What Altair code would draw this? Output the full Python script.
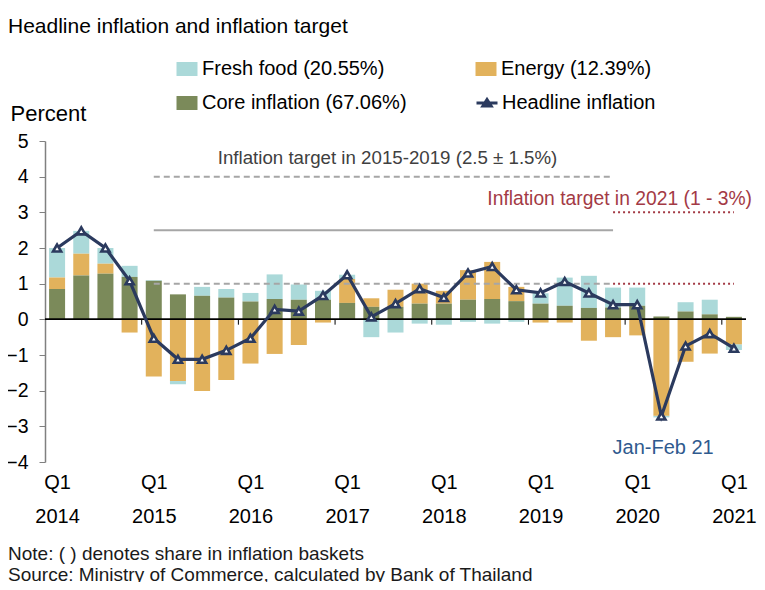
import altair as alt
import pandas as pd

FONT = "Liberation Sans"

# ---- data ----
quarter_idx = list(range(29))  # 0 = Q1 2014 ... 28 = Q1 2021
core = [0.85, 1.23, 1.28, 1.19, 1.08, 0.70, 0.66, 0.61, 0.50, 0.57, 0.55, 0.55,
        0.46, 0.35, 0.35, 0.44, 0.44, 0.55, 0.57, 0.51, 0.44, 0.38, 0.32, 0.33,
        0.38, 0.08, 0.22, 0.14, 0.07]
energy = [0.32, 0.61, 0.28, -0.37, -1.60, -1.73, -2.01, -1.70, -1.24, -0.97, -0.72, -0.09,
          0.67, 0.24, 0.48, 0.56, 0.36, 0.83, 1.04, 0.40, -0.09, -0.09, -0.60, -0.50,
          -0.45, -2.70, -1.19, -0.96, -0.70]
fresh = [0.83, 0.64, 0.44, 0.31, 0.02, -0.09, 0.25, 0.24, 0.24, 0.69, 0.43, 0.25,
         0.12, -0.50, -0.37, -0.12, -0.15, -0.07, -0.12, -0.07, 0.29, 0.79, 0.90, 0.56,
         0.51, -0.05, 0.26, 0.41, -0.16]
headline = [2.00, 2.48, 2.00, 1.08, -0.53, -1.12, -1.12, -0.87, -0.53, 0.28, 0.23, 0.67,
            1.25, 0.07, 0.44, 0.86, 0.61, 1.30, 1.48, 0.83, 0.74, 1.06, 0.74, 0.41,
            0.41, -2.71, -0.75, -0.40, -0.81]

comp_names = ["Fresh food (20.55%)", "Energy (12.39%)", "Core inflation (67.06%)"]
comp_colors = ["#ABD9D9", "#E2B25C", "#7B8A5A"]
stack_order = {"Core inflation (67.06%)": 0, "Energy (12.39%)": 1, "Fresh food (20.55%)": 2}
headline_name = "Headline inflation"
navy = "#2B3A5E"

label_quarters = [0, 4, 8, 12, 16, 20, 24, 28]
first_year = 2014
year_bounds = [3.5, 7.5, 11.5, 15.5, 19.5, 23.5, 27.5]
y_ticks = [-4, -3, -2, -1, 0, 1, 2, 3, 4, 5]

# inflation-target segments (quarter index start/end, level)
grey_dash_start = [4, 4]
grey_dash_end = [23, 23]
grey_dash_level = [4, 1]
grey_solid_start = [4]
grey_solid_end = [23]
grey_solid_level = [2.5]
red_dot_start = [23, 23]
red_dot_end = [28, 28]
red_dot_level = [3, 1]

ann_text = ["Inflation target in 2015-2019 (2.5 \u00b1 1.5%)",
            "Inflation target in 2021 (1 - 3%)", "Jan-Feb 21"]
ann_x = [13.67, 28.75, 25.07]
ann_y = [4.52, 3.37, -3.6]

# ---- tables ----
rows = []
for i in quarter_idx:
    for name, vals in zip(comp_names, [fresh, energy, core]):
        rows.append({"q": i, "component": name, "value": vals[i], "ord": stack_order[name]})
bars_df = pd.DataFrame(rows)
line_df = pd.DataFrame({"q": quarter_idx, "value": headline, "series": headline_name})
bounds_df = pd.DataFrame({"b": year_bounds})
gd_df = pd.DataFrame({"x": grey_dash_start, "x2": grey_dash_end, "y": grey_dash_level})
gs_df = pd.DataFrame({"x": grey_solid_start, "x2": grey_solid_end, "y": grey_solid_level})
rd_df = pd.DataFrame({"x": red_dot_start, "x2": red_dot_end, "y": red_dot_level})

xscale = alt.Scale(domain=[-0.5, 28.5], nice=False, zero=False, padding=0)
yscale = alt.Scale(domain=[-4, 5], nice=False, zero=False, padding=0)

x_axis = alt.Axis(values=label_quarters,
                  labelExpr=f"['Q1', '' + ({first_year} + datum.value / 4)]",
                  domain=False, ticks=False, grid=False, title=None,
                  labelFontSize=20, labelFont=FONT, labelColor="black",
                  labelLineHeight=34, labelPadding=10, labelBaseline="top",
                  labelOverlap=False, labelFlush=False)
y_axis = alt.Axis(values=y_ticks, tickCount=len(y_ticks), grid=False, domainColor="#808080",
                  domainWidth=1.5, tickColor="#808080", tickSize=6, tickWidth=1,
                  labelFontSize=19.5, labelFont=FONT, labelColor="black", labelPadding=11,
                  labelOverlap=False, labelSeparation=0,
                  title="Percent", titleAngle=0, titleX=-35, titleY=-21,
                  titleAlign="left", titleBaseline="alphabetic", titleFontSize=22,
                  titleFont=FONT, titleFontWeight="normal", titleColor="black")

X = lambda f: alt.X(f, scale=xscale, axis=x_axis)
Y = lambda f: alt.Y(f, scale=yscale, axis=y_axis)

rect_path = "M-1.4,-0.93H1.4V0.93H-1.4Z"
bars = alt.Chart(bars_df).mark_bar(size=16).encode(
    x=X("q:Q"),
    y=alt.Y("value:Q", scale=yscale, axis=y_axis, stack="zero"),
    color=alt.Color("component:N",
                    scale=alt.Scale(domain=comp_names, range=comp_colors),
                    legend=alt.Legend(orient="none", legendX=132, legendY=-82,
                                      direction="horizontal",
                                      columns=2, title=None, symbolType=rect_path,
                                      symbolSize=225, symbolStrokeWidth=0,
                                      labelFontSize=20, labelFont=FONT, labelColor="black",
                                      labelLimit=0, labelOffset=5, rowPadding=14,
                                      columnPadding=68, gridAlign="all", symbolOpacity=1)),
    order=alt.Order("ord:Q"),
)

zero_line = alt.Chart(bounds_df).mark_rule(color="black", strokeWidth=1).encode(
    y=alt.datum(0, scale=yscale, axis=y_axis))
zero_ticks = alt.Chart(bounds_df).mark_rule(color="black", strokeWidth=1).encode(
    x=X("b:Q"), y=alt.datum(0, scale=yscale, axis=y_axis), y2=alt.datum(-0.15))

grey_dash = alt.Chart(gd_df).mark_rule(color="#A6A6A6", strokeWidth=2, strokeDash=[6, 4]).encode(
    x=X("x:Q"), x2="x2:Q", y=Y("y:Q"))
grey_solid = alt.Chart(gs_df).mark_rule(color="#A6A6A6", strokeWidth=2).encode(
    x=X("x:Q"), x2="x2:Q", y=Y("y:Q"))
red_dot = alt.Chart(rd_df).mark_rule(color="#A33A45", strokeWidth=2, strokeDash=[2, 3]).encode(
    x=X("x:Q"), x2="x2:Q", y=Y("y:Q"))

hl_path = "M-1.4,0H1.4M-0.55,0.4L0,-0.45L0.55,0.4Z"
line = alt.Chart(line_df).mark_line(strokeWidth=3.2).encode(
    x=X("q:Q"), y=Y("value:Q"),
    color=alt.Color("series:N", scale=alt.Scale(domain=[headline_name], range=[navy]),
                    legend=alt.Legend(orient="none", legendX=432, legendY=-48, title=None,
                                      symbolType=hl_path, symbolSize=225,
                                      symbolStrokeWidth=3, symbolFillColor=navy,
                                      labelFontSize=20, labelFont=FONT, labelColor="black",
                                      labelLimit=0, labelOffset=5)),
)
points = alt.Chart(line_df).mark_point(shape="triangle-up", filled=True, fill="white",
                                       stroke=navy, strokeWidth=2.6, size=65, opacity=1).encode(
    x=X("q:Q"), y=Y("value:Q"))

ann_df = pd.DataFrame({"text": ann_text, "x": ann_x, "y": ann_y})
ann1 = alt.Chart(ann_df.iloc[[0]]).mark_text(font=FONT, fontSize=18.7, color="#404040",
                                             align="center", baseline="middle").encode(
    x=X("x:Q"), y=Y("y:Q"), text="text:N")
ann2 = alt.Chart(ann_df.iloc[[1]]).mark_text(font=FONT, fontSize=19.3, color="#A33A45",
                                             align="right", baseline="middle").encode(
    x=X("x:Q"), y=Y("y:Q"), text="text:N")
ann3 = alt.Chart(ann_df.iloc[[2]]).mark_text(font=FONT, fontSize=20, color="#2F5A8E",
                                             align="center", baseline="middle").encode(
    x=X("x:Q"), y=Y("y:Q"), text="text:N")

title_df = pd.DataFrame({"t": ["Headline inflation and inflation target"]})
title = alt.Chart(title_df).mark_text(font=FONT, fontSize=21, color="black", align="left",
                                      baseline="alphabetic").encode(
    x=alt.value(-37), y=alt.value(-108), text="t:N")
notes_df = pd.DataFrame({"t": ["Note: ( ) denotes share in inflation baskets",
                               "Source: Ministry of Commerce, calculated by Bank of Thailand"]})
note = alt.Chart(notes_df.iloc[[0]]).mark_text(font=FONT, fontSize=19, color="#1a1a1a",
                                               align="left", baseline="alphabetic").encode(
    x=alt.value(-37), y=alt.value(419), text="t:N")
source = alt.Chart(notes_df.iloc[[1]]).mark_text(font=FONT, fontSize=19, color="#1a1a1a",
                                                 align="left", baseline="alphabetic").encode(
    x=alt.value(-37), y=alt.value(440), text="t:N")

chart = alt.layer(
    bars, zero_line, zero_ticks, grey_dash, grey_solid, red_dot, line, points,
    ann1, ann2, ann3, title, note, source
).resolve_scale(color="independent").properties(
    width=701, height=321, background="white",
    autosize=alt.AutoSizeParams(type="none"),
    padding={"left": 37, "top": 133, "right": 11, "bottom": 120},
).configure_view(stroke=None).configure_axis(labelOverlap=False).configure_axisY(
    labelOverlap=False)

chart.save("out.html", embed_options={"renderer": "svg", "actions": False})
